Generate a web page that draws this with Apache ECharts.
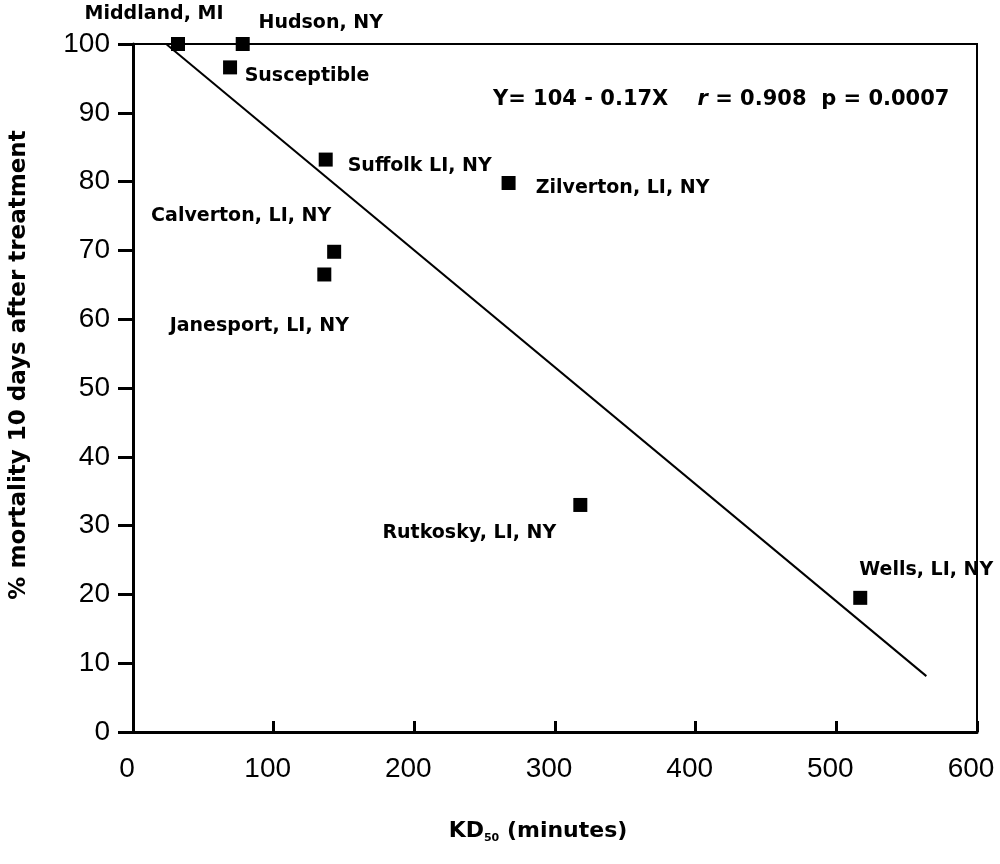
<!DOCTYPE html>
<html>
<head>
<meta charset="utf-8">
<script src="https://cdn.jsdelivr.net/npm/echarts@6/dist/echarts.min.js"></script>
<style>
  html, body { margin: 0; padding: 0; background: #fff; }
  #chart { width: 1000px; height: 864px; }
</style>
</head>
<body>
<div id="chart"></div>
<script>
// Populations: KD50 (minutes) vs % mortality 10 days after treatment
const sites = ['Middland, MI', 'Hudson, NY', 'Susceptible', 'Suffolk LI, NY', 'Zilverton, LI, NY',
               'Calverton, LI, NY', 'Janesport, LI, NY', 'Rutkosky, LI, NY', 'Wells, LI, NY'];
const kd50 = [32, 78, 69, 137, 267, 143, 136, 318, 517];
const mortality = [100, 100, 96.6, 83.2, 79.8, 69.8, 66.5, 33, 19.5];

// Regression Y = a + bX, drawn over the fitted KD50 range
const fitIntercept = 104;
const fitSlope = -0.17;
const fitRange = [24, 564];

const xTicks = [0, 100, 200, 300, 400, 500, 600];
const yTicks = [0, 10, 20, 30, 40, 50, 60, 70, 80, 90, 100];

// Label offsets (px) from each marker centre
const labelOffsets = [[-24, -30], [78, -21], [77, 9], [94, 6], [114, 5],
                      [-93, -36], [-65, 52], [-111, 28], [66, -28]];

const sans = '"Liberation Sans", Arial, sans-serif';
const wide = '"DejaVu Sans", Verdana, sans-serif';

const points = kd50.map((x, i) => ({
  name: sites[i],
  value: [x, mortality[i]],
  label: { offset: labelOffsets[i] }
}));

const fitLine = fitRange.map(x => [x, fitIntercept + fitSlope * x]);

const chart = echarts.init(document.getElementById('chart'), null, { renderer: 'canvas' });
chart.setOption({
  backgroundColor: '#fff',
  animation: false,
  grid: {
    left: 127, right: 23, top: 44, bottom: 132,
    show: true, borderColor: '#000', borderWidth: 2, backgroundColor: 'transparent'
  },
  xAxis: {
    type: 'value',
    min: xTicks[0], max: xTicks[xTicks.length - 1], interval: 100,
    axisLine: { lineStyle: { color: '#000', width: 3 } },
    axisTick: { inside: true, length: 11, lineStyle: { color: '#000', width: 3 } },
    axisLabel: { color: '#000', fontFamily: sans, fontSize: 28, margin: 23, padding: [0, 12, 0, 0] },
    splitLine: { show: false },
    name: '{a|KD}{s|50}{a| (minutes)}',
    nameLocation: 'middle',
    nameGap: 86,
    nameTextStyle: {
      padding: [0, 34, 0, 0],
      rich: {
        a: { fontFamily: wide, fontWeight: 'bold', fontSize: 22, color: '#000' },
        s: { fontFamily: wide, fontWeight: 'bold', fontSize: 11, color: '#000', verticalAlign: 'bottom', padding: [15, 0, 0, 0] }
      }
    }
  },
  yAxis: {
    type: 'value',
    min: yTicks[0], max: yTicks[yTicks.length - 1], interval: 10,
    axisLine: { show: true, lineStyle: { color: '#000', width: 3 } },
    axisTick: { show: true, inside: false, length: 15, lineStyle: { color: '#000', width: 3 } },
    axisLabel: { color: '#000', fontFamily: sans, fontSize: 28, margin: 23 },
    splitLine: { show: false },
    name: '% mortality 10 days after treatment',
    nameLocation: 'middle',
    nameGap: 102,
    nameTextStyle: { fontFamily: wide, fontSize: 23, color: '#000', fontWeight: 'bold', padding: [0, 0, 0, 46] }
  },
  graphic: [{
    type: 'text',
    left: 493, top: 89,
    style: {
      text: 'Y= 104 - 0.17X    {i|r} = 0.908  p = 0.0007',
      font: 'bold 21px ' + wide,
      fill: '#000',
      rich: {
        i: { fontFamily: wide, fontWeight: 'bold', fontStyle: 'italic', fontSize: 21, fill: '#000' }
      }
    }
  }],
  series: [
    {
      type: 'line',
      data: fitLine,
      symbol: 'none',
      lineStyle: { color: '#000', width: 2 },
      z: 2
    },
    {
      type: 'scatter',
      data: points,
      symbol: 'rect',
      symbolSize: 14,
      itemStyle: { color: '#000', opacity: 1 },
      label: {
        show: true,
        position: 'inside',
        formatter: '{b}',
        fontFamily: wide,
        fontWeight: 'bold',
        fontSize: 19,
        color: '#000'
      },
      z: 3
    }
  ]
});
</script>
</body>
</html>
